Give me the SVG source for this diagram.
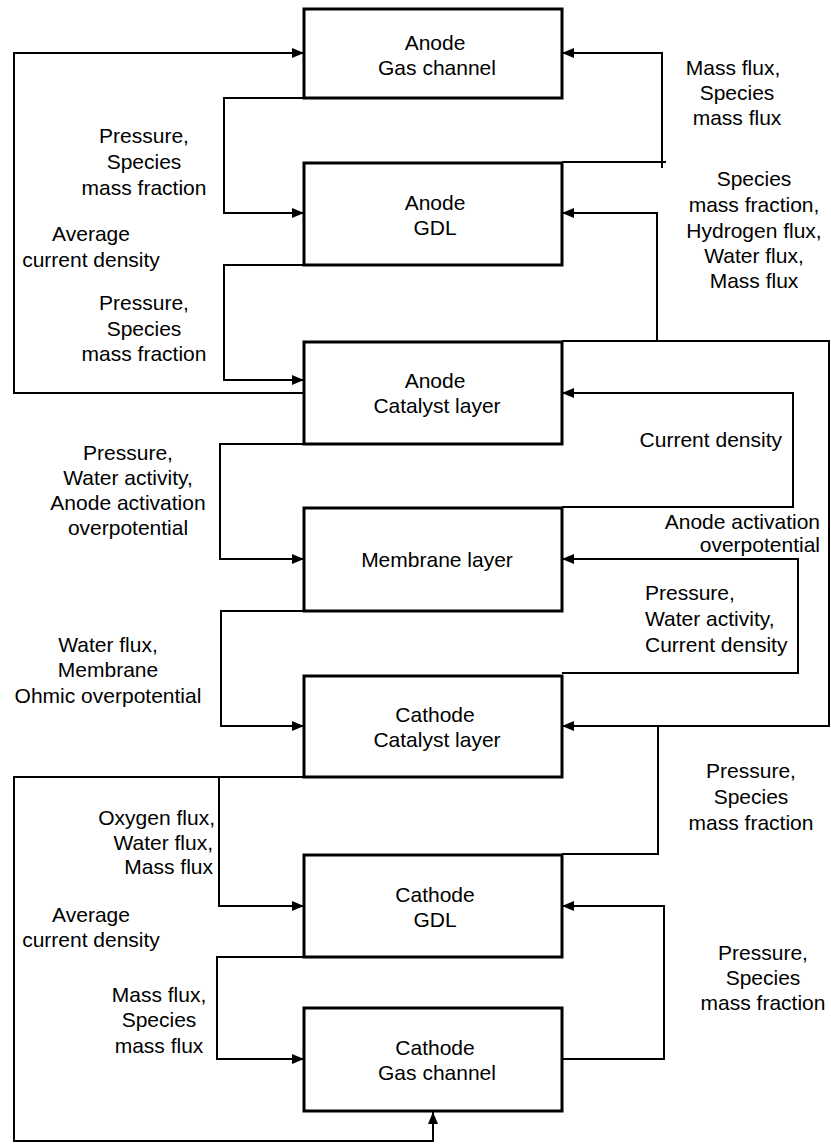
<svg xmlns="http://www.w3.org/2000/svg" width="831" height="1145" viewBox="0 0 831 1145">
<style>
.box{fill:#fff;stroke:#000;stroke-width:3}
.c{fill:none;stroke:#000;stroke-width:2}
.a{marker-end:url(#ah)}
text{font-family:"Liberation Sans",Arial,sans-serif;font-size:21px;fill:#000}
.m{text-anchor:middle}
.e{text-anchor:end}
</style>
<defs>
<marker id="ah" markerUnits="userSpaceOnUse" markerWidth="13" markerHeight="11" refX="12" refY="5" orient="auto">
<path d="M0,0 L12,5 L0,10 z" fill="#000"/>
</marker>
</defs>
<rect width="831" height="1145" fill="#fff"/>
<g id="connectors">
<path class="c a" d="M304,393 H14 V53 H304"/>
<path class="c a" d="M304,98 H224 V213 H304"/>
<path class="c a" d="M304,265 H224 V380 H304"/>
<path class="c a" d="M304,444 H220 V559 H304"/>
<path class="c a" d="M304,611 H221 V726 H304"/>
<path class="c a" d="M304,777 H14 V1141 H433 V1112"/>
<path class="c a" d="M219,777 V906 H304"/>
<path class="c a" d="M304,957 H217 V1059 H304"/>
<path class="c" d="M562,162 H666"/>
<path class="c a" d="M662,168 V53 H562"/>
<path class="c a" d="M562,341 H829 V726 H562"/>
<path class="c a" d="M657,341 V213 H562"/>
<path class="c a" d="M562,507 H793 V393 H562"/>
<path class="c a" d="M562,673 H798 V559 H562"/>
<path class="c" d="M562,854 H658 V726"/>
<path class="c a" d="M562,1059 H664 V906 H562"/>
</g>
<g id="n1"><rect class="box" x="304" y="9" width="258" height="89"/><text class="m" x="435" y="50">Anode</text><text class="m" x="437" y="75">Gas channel</text></g>
<g id="n2"><rect class="box" x="304" y="163" width="258" height="102"/><text class="m" x="435" y="210">Anode</text><text class="m" x="435" y="235">GDL</text></g>
<g id="n3"><rect class="box" x="304" y="342" width="258" height="102"/><text class="m" x="435" y="388">Anode</text><text class="m" x="437" y="413">Catalyst layer</text></g>
<g id="n4"><rect class="box" x="304" y="508" width="258" height="103"/><text class="m" x="437" y="567">Membrane layer</text></g>
<g id="n5"><rect class="box" x="304" y="676" width="258" height="101"/><text class="m" x="435" y="722">Cathode</text><text class="m" x="437" y="747">Catalyst layer</text></g>
<g id="n6"><rect class="box" x="304" y="855" width="258" height="102"/><text class="m" x="435" y="902">Cathode</text><text class="m" x="435" y="927">GDL</text></g>
<g id="n7"><rect class="box" x="304" y="1008" width="258" height="103"/><text class="m" x="435" y="1055">Cathode</text><text class="m" x="437" y="1080">Gas channel</text></g>
<g id="labels">
<text class="m" x="144" y="143">Pressure,</text><text class="m" x="144" y="169">Species</text><text class="m" x="144" y="195">mass fraction</text>
<text class="m" x="91" y="241">Average</text><text class="m" x="91" y="267">current density</text>
<text class="m" x="144" y="310">Pressure,</text><text class="m" x="144" y="336">Species</text><text class="m" x="144" y="361">mass fraction</text>
<text class="m" x="128" y="460">Pressure,</text><text class="m" x="128" y="485">Water activity,</text><text class="m" x="128" y="510">Anode activation</text><text class="m" x="128" y="535">overpotential</text>
<text class="m" x="108" y="652">Water flux,</text><text class="m" x="108" y="677">Membrane</text><text class="m" x="108" y="703">Ohmic overpotential</text>
<text class="e" x="215" y="825">Oxygen flux,</text><text class="e" x="213" y="850">Water flux,</text><text class="e" x="213" y="874">Mass flux</text>
<text class="m" x="91" y="922">Average</text><text class="m" x="91" y="947">current density</text>
<text class="m" x="159" y="1002">Mass flux,</text><text class="m" x="159" y="1027">Species</text><text class="m" x="159" y="1053">mass flux</text>
<text class="m" x="733" y="75">Mass flux,</text><text class="m" x="737" y="100">Species</text><text class="m" x="737" y="125">mass flux</text>
<text class="m" x="754" y="186">Species</text><text class="m" x="754" y="212">mass fraction,</text><text class="m" x="754" y="238">Hydrogen flux,</text><text class="m" x="754" y="263">Water flux,</text><text class="m" x="754" y="288">Mass flux</text>
<text class="e" x="782" y="447">Current density</text>
<text class="e" x="820" y="529">Anode activation</text><text class="e" x="820" y="552">overpotential</text>
<text x="645" y="600">Pressure,</text><text x="645" y="626">Water activity,</text><text x="645" y="652">Current density</text>
<text class="m" x="751" y="778">Pressure,</text><text class="m" x="751" y="804">Species</text><text class="m" x="751" y="830">mass fraction</text>
<text class="m" x="763" y="960">Pressure,</text><text class="m" x="763" y="985">Species</text><text class="m" x="763" y="1010">mass fraction</text>
</g>
</svg>
